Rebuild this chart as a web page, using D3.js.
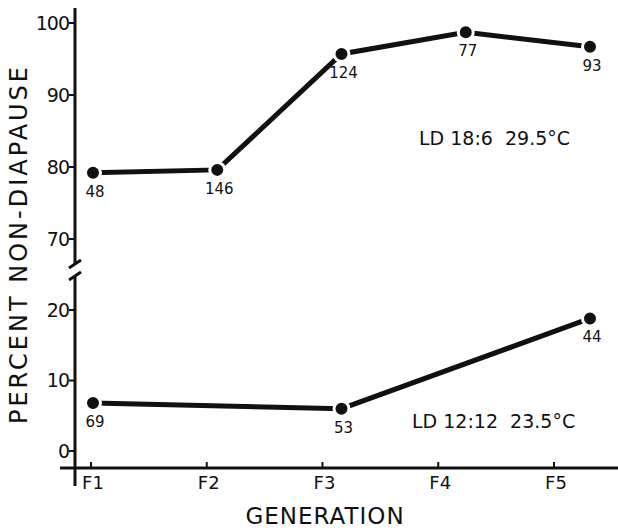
<!DOCTYPE html>
<html>
<head>
<meta charset="utf-8">
<script src="https://cdn.jsdelivr.net/npm/d3@7"></script>
<style>
  body { margin: 0; background: #fff; }
  svg { display: block; }
  text { font-family: "DejaVu Sans", sans-serif; fill: #111; }
</style>
</head>
<body>
<svg></svg>
<script>
(function (d3) {
  'use strict';

  const generations = ['F1', 'F2', 'F3', 'F4', 'F5'];

  // LD 18:6, 29.5°C
  const longDayGen = ['F1', 'F2', 'F3', 'F4', 'F5'];
  const longDayPct = [79.2, 79.6, 95.7, 98.7, 96.7];
  const longDayN = [48, 146, 124, 77, 93];

  // LD 12:12, 23.5°C
  const shortDayGen = ['F1', 'F3', 'F5'];
  const shortDayPct = [6.8, 6.0, 18.8];
  const shortDayN = [69, 53, 44];

  const upperTicks = [70, 80, 90, 100];
  const lowerTicks = [0, 10, 20];

  const width = 618, height = 530;
  const ink = '#111';

  const svg = d3.select('svg')
      .attr('width', width)
      .attr('height', height);

  // the plotted points sit on a slightly wider spacing than the axis ticks
  const xPts = d3.scalePoint().domain(generations).range([93, 590]);
  const xAxisScale = d3.scalePoint().domain(generations).range([91, 554]);

  const yUpper = d3.scaleLinear().domain([70, 100]).range([239, 23]);
  const yLower = d3.scaleLinear().domain([0, 20]).range([451, 310]);

  const axisX = 75, baseY = 468;

  // y axis segments
  svg.append('line')
      .attr('x1', axisX).attr('x2', axisX)
      .attr('y1', 8).attr('y2', 264)
      .attr('stroke', ink).attr('stroke-width', 3);
  svg.append('line')
      .attr('x1', axisX).attr('x2', axisX)
      .attr('y1', 276).attr('y2', 486)
      .attr('stroke', ink).attr('stroke-width', 3);

  // break marks
  [263, 275].forEach(y => {
    svg.append('line')
        .attr('x1', axisX - 6).attr('y1', y + 5)
        .attr('x2', axisX + 6).attr('y2', y - 3)
        .attr('stroke', ink).attr('stroke-width', 3);
  });

  // x axis line
  svg.append('line')
      .attr('x1', 60).attr('x2', width)
      .attr('y1', baseY).attr('y2', baseY)
      .attr('stroke', ink).attr('stroke-width', 3);

  // y ticks + labels
  const yTick = (scale, v) => {
    const y = scale(v);
    svg.append('line')
        .attr('x1', axisX - 6).attr('x2', axisX)
        .attr('y1', y).attr('y2', y)
        .attr('stroke', ink).attr('stroke-width', 2);
    svg.append('text')
        .attr('x', axisX - 6)
        .attr('y', y)
        .attr('dy', '0.36em')
        .attr('text-anchor', 'end')
        .attr('font-size', 19)
        .attr('letter-spacing', -1)
        .text(v);
  };
  upperTicks.forEach(v => yTick(yUpper, v));
  lowerTicks.forEach(v => yTick(yLower, v));

  // x ticks + labels
  generations.forEach(g => {
    const x = xAxisScale(g);
    svg.append('line')
        .attr('x1', x).attr('x2', x)
        .attr('y1', baseY).attr('y2', baseY - 6)
        .attr('stroke', ink).attr('stroke-width', 2);
    svg.append('text')
        .attr('x', x + 2)
        .attr('y', baseY + 21)
        .attr('text-anchor', 'middle')
        .attr('font-size', 18)
        .text(g);
  });

  // axis titles
  svg.append('text')
      .attr('x', 325)
      .attr('y', 524)
      .attr('text-anchor', 'middle')
      .attr('font-size', 23)
      .attr('letter-spacing', 1)
      .text('GENERATION');

  svg.append('text')
      .attr('transform', 'translate(27,244) rotate(-90)')
      .attr('text-anchor', 'middle')
      .attr('font-size', 24)
      .attr('letter-spacing', 3)
      .text('PERCENT NON-DIAPAUSE');

  const drawSeries = (gens, vals, ns, yScale) => {
    const pts = gens.map((g, i) => ({ x: xPts(g), y: yScale(vals[i]), n: ns[i] }));
    const line = d3.line().x(d => d.x).y(d => d.y);
    svg.append('path')
        .attr('d', line(pts))
        .attr('fill', 'none')
        .attr('stroke', ink)
        .attr('stroke-width', 5);
    svg.selectAll(null).data(pts).enter().append('circle')
        .attr('cx', d => d.x)
        .attr('cy', d => d.y)
        .attr('r', 7.5)
        .attr('fill', ink)
        .attr('stroke', '#fff')
        .attr('stroke-width', 3);
    svg.selectAll(null).data(pts).enter().append('text')
        .attr('x', d => d.x + 2)
        .attr('y', d => d.y + 24)
        .attr('text-anchor', 'middle')
        .attr('font-size', 15)
        .text(d => d.n);
  };

  drawSeries(longDayGen, longDayPct, longDayN, yUpper);
  drawSeries(shortDayGen, shortDayPct, shortDayN, yLower);

  // condition labels
  svg.append('text')
      .attr('x', 419).attr('y', 145)
      .attr('font-size', 19)
      .attr('xml:space', 'preserve')
      .text('LD 18:6  29.5°C');
  svg.append('text')
      .attr('x', 412).attr('y', 428)
      .attr('font-size', 19)
      .attr('xml:space', 'preserve')
      .text('LD 12:12  23.5°C');

}(d3));
</script>
</body>
</html>
